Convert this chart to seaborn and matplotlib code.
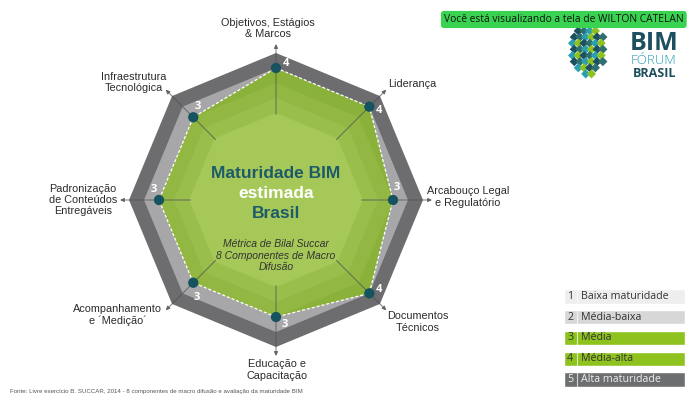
import numpy as np
import pandas as pd
import matplotlib
matplotlib.use("Agg")
import matplotlib.pyplot as plt
import seaborn as sns

# Data
components = ["Objetivos, Estágios\n& Marcos", "Liderança", "Arcabouço Legal\ne Regulatório",
              "Documentos\nTécnicos", "Educação e\nCapacitação", "Acompanhamento\ne ´Medição´",
              "Padronização\nde Conteúdos\nEntregáveis", "Infraestrutura\nTecnológica"]
maturity = [4, 4, 3, 4, 3, 3, 3, 3]
levels = ["Baixa maturidade", "Média-baixa", "Média", "Média-alta", "Alta maturidade"]
level_num = [1, 2, 3, 4, 5]

sns.set_style("white")
plt.rcParams['font.family'] = ['Liberation Sans', 'DejaVu Sans']

fig = plt.figure(figsize=(6.89, 4.2), dpi=100)
W, H = 689, 420

# Radar
ax = fig.add_axes([120 / W, 64 / H, 312 / W, 312 / H], projection='polar')
ax.set_theta_zero_location('N')
ax.set_theta_direction(-1)
theta = np.arange(len(components)) * 2 * np.pi / len(components)
tc = np.append(theta, theta[0])
ones = np.ones(len(tc))

ax.fill(tc, ones * 5, color='#6d6d6f', lw=0, zorder=1)
ax.fill(tc, ones * 4, color='#a7a7a9', lw=0, zorder=2)
vals = np.append(maturity, maturity[0])
ax.fill(tc, vals, color='#8ab23b', lw=0, zorder=3)
for lv, col in zip([3, 2, 1], ['#92b843', '#9abe4c', '#a6c859']):
    ax.fill(tc, ones * lv, color=col, lw=0, zorder=4)

# spokes with arrows
for t in theta:
    ax.annotate('', xy=(t, 5.6), xytext=(t, 0.9), xycoords='data',
                arrowprops=dict(arrowstyle='-|>', color='#505050', lw=0.7,
                                mutation_scale=6, shrinkA=0, shrinkB=0, alpha=0.75),
                annotation_clip=False, zorder=5)

ax.plot(tc, vals, color='white', lw=0.9, ls=(0, (2.5, 1.5)), zorder=6)
df = pd.DataFrame({'theta': theta, 'valor': maturity})
sns.scatterplot(data=df, x='theta', y='valor', ax=ax, s=55, color='#17525f',
                edgecolor='none', zorder=7)

# value labels (white, beside each point)
dtheta = [4, 4, -6, -4, -4, -6, 5, 5]
dr = [0.3, 0.3, 0.3, 0.25, 0.5, 0.55, 0.35, 0.3]
for t, v, a, d in zip(theta, maturity, dtheta, dr):
    ax.text(t + np.radians(a), v + d, str(v), color='white', fontsize=8,
            fontweight='bold', family=['Open Sans', 'DejaVu Sans'],
            ha='center', va='center', zorder=8)

# component labels
lab_ang = [-2.7, 44, 89.1, 130.7, 179.7, 234, 270, 309.7]
lab_r = [6.67, 5.94, 8.0, 7.67, 6.53, 8.23, 8.07, 7.5]
lab_ha = ['center', 'left', 'center', 'center', 'center', 'center', 'center', 'center']
for name, a, r, h in zip(components, lab_ang, lab_r, lab_ha):
    ax.text(np.radians(a), r, name, ha=h, va='center', fontsize=7.8, color='#2b2b2b',
            linespacing=1.15, clip_on=False, zorder=9)

ax.set_ylim(-4.8, 5.6)
ax.set_axis_off()

# centre text
ctr = dict(transform=ax.transAxes, ha='center', va='center', zorder=10)
ax.text(0.5, 0.586, "Maturidade BIM", fontsize=12.5, fontweight='bold', color='#1d5a6a', **ctr)
ax.text(0.5, 0.522, "estimada", fontsize=12.5, fontweight='bold', color='white', **ctr)
ax.text(0.5, 0.458, "Brasil", fontsize=12.5, fontweight='bold', color='#1d5a6a', **ctr)
ax.text(0.5, 0.321, "Métrica de Bilal Succar\n8 Componentes de Macro\nDifusão",
        fontsize=7.5, style='italic', color='#333333', linespacing=1.2, **ctr)

# legend boxes
lax = fig.add_axes([564 / W, 33 / H, 121 / W, 98 / H])
leg_colors = ['#eeeeee', '#d7d7d7', '#8dc21f', '#8dc21f', '#6d6e70']
sns.barplot(x=[1] * 5, y=levels, hue=levels, palette=leg_colors, orient='h', width=0.7,
            legend=False, saturation=1, ax=lax)
lax.set_xlim(0, 1)
lax.set_ylim(4.35, -0.35)
lax.set_axis_off()
for i, (n, lv) in enumerate(zip(level_num, levels)):
    tcol = '#eeeeee' if n == 5 else '#333333'
    lax.plot([0.105, 0.105], [i - 0.35, i + 0.35], color='white', lw=0.8, alpha=0.7)
    lax.text(0.05, i, str(n), ha='center', va='center', fontsize=7.7, color=tcol,
             family=['Open Sans', 'DejaVu Sans'])
    lax.text(0.14, i, lv, ha='left', va='center', fontsize=7.7, color=tcol,
             family=['Open Sans', 'DejaVu Sans'])

# banner
fig.text(444 / W, 1 - 19.5 / H, "Você está visualizando a tela de WILTON CATELAN",
         ha='left', va='center', fontsize=7.4, color='#111111',
         family=['Open Sans', 'DejaVu Sans'],
         bbox=dict(boxstyle='round,pad=0.3', fc='#3ad351', ec='none'))

# logo
logo = dict(ha='center', va='baseline', family=['Open Sans', 'DejaVu Sans'])
fig.text(654 / W, 1 - 50 / H, "BIM", fontsize=18, fontweight='bold', color='#1d4f5e', **logo)
fig.text(654 / W, 1 - 64.5 / H, "FÓRUM", fontsize=9.5, color='#2a9fb4', fontweight='light', **logo)
fig.text(655 / W, 1 - 77 / H, "BRASIL", fontsize=9, fontweight='bold', color='#1d4f5e', **logo)
gx, gy = np.meshgrid(np.arange(6), np.arange(8))
gx, gy = gx.ravel(), gy.ravel()
keep = ((gx - 2.6) / 3.0) ** 2 + ((gy - 3.0) / 4.2) ** 2 < 1
gx, gy = gx[keep], gy[keep]
pal = ['#1d4f5e', '#8dc21f', '#2a9fb4', '#2f6f6f']
mx = fig.add_axes([568 / W, 1 - 80 / H, 40 / W, 54 / H])
mx.scatter(gx + 0.3 * (gy % 2), -gy, s=22, marker='D',
           c=[pal[(i * 3) % 4] for i in range(len(gx))], edgecolor='none')
mx.set_xlim(-0.8, 6.2)
mx.set_ylim(-8, 0.8)
mx.set_axis_off()

# footer
fig.text(10 / W, 1 - 391 / H,
         "Fonte: Livre exercício B. SUCCAR, 2014 - 8 componentes de macro difusão e avaliação da maturidade BIM",
         ha='left', va='center', fontsize=4.4, color='#555555')

fig.savefig("out.png", dpi=100, facecolor='white')
